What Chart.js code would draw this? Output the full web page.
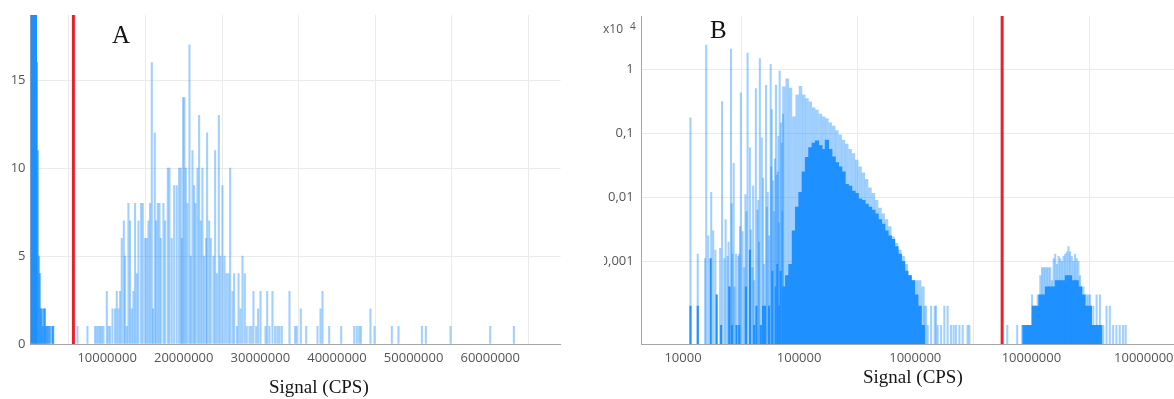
<!DOCTYPE html>
<html>
<head>
<meta charset="utf-8">
<script src="https://cdn.jsdelivr.net/npm/chart.js@4.4.1/dist/chart.umd.min.js"></script>
<style>
  body{margin:0;width:1174px;height:399px;overflow:hidden;background:#fff;position:relative;font-family:"Open Sans",sans-serif}
  canvas{position:absolute;top:0}
  #chartA{left:0}
  #chartB{left:604px}
  .letter{position:absolute;font-family:"Liberation Serif","Times New Roman",serif;font-size:25px;line-height:1;color:#151515}
  .xtitle{position:absolute;font-family:"Liberation Serif","Times New Roman",serif;font-size:19px;line-height:1;color:#151515;white-space:nowrap}
  .mult{position:absolute;font-family:"Open Sans",sans-serif;line-height:1;color:#555}
</style>
</head>
<body>
<canvas id="chartA" width="575" height="399"></canvas>
<canvas id="chartB" width="583" height="399"></canvas>
<div class="letter" style="left:112px;top:22px">A</div>
<div class="letter" style="left:710px;top:17px">B</div>
<div class="xtitle" style="left:269px;top:377px">Signal (CPS)</div>
<div class="xtitle" style="left:863px;top:367px">Signal (CPS)</div>
<div class="mult" style="left:603px;top:23px;font-size:12px">x10</div>
<div class="mult" style="left:630px;top:21px;font-size:10px">4</div>
<script>
// threshold drawn in red on both panels (CPS)
const thresholdSignal = 5.6e6;

// ---- panel A : linear histogram, signal in millions of CPS ----
const xTicksA = [1e7, 2e7, 3e7, 4e7, 5e7, 6e7];
const yTicksA = [0, 5, 10, 15];
const xMaxA = 69.2e6;
const yMaxA = 18.7;

const lowSignalA = [0.12, 0.31, 0.51, 0.70, 0.82, 0.93, 1.06, 1.19, 1.32, 1.45, 1.58, 1.74, 1.87, 1.97, 2.17, 2.34, 2.52, 2.86, 2.95];
const lowCountA  = [40, 36, 30, 24, 16, 11, 5, 4, 2, 2, 1, 2, 2, 1, 1, 1, 1, 1, 1];

const mainSignalA = [
  6.13, 7.43, 8.43, 8.65, 8.87, 9.09, 9.30, 9.52, 9.96, 10.17,
  10.39, 10.70, 11.04, 11.26, 11.48, 11.70, 11.91, 12.18, 12.35, 12.57,
  12.78, 13.00, 13.22, 13.43, 13.65, 13.87, 14.09, 14.44, 14.66, 14.96,
  15.18, 15.39, 15.61, 15.83, 16.00, 16.22, 16.40, 16.61, 16.83, 17.00,
  17.35, 17.57, 17.92, 18.14, 18.44, 18.75, 19.09, 19.40, 19.62, 19.75,
  19.92, 20.09, 20.27, 20.49, 20.75, 20.92, 21.14, 21.36, 21.53, 21.79,
  22.01, 22.23, 22.44, 22.66, 22.92, 23.05, 23.32, 23.53, 23.88, 24.10,
  24.32, 24.58, 24.79, 25.05, 25.32, 25.58, 25.84, 26.06, 26.36, 26.58,
  26.93, 27.15, 27.41, 27.67, 27.97, 28.23, 28.58, 28.84, 29.10, 29.45,
  29.71, 30.02, 30.67, 30.89, 31.19, 31.58, 31.93, 32.23, 32.50, 32.80,
  33.80, 34.54, 34.76, 35.28, 35.98, 37.46, 37.85, 38.11, 38.98, 40.55,
  42.25, 42.59, 42.90, 43.12, 44.37, 44.90, 47.16, 48.03, 51.08, 51.60,
  54.82, 60.00, 63.09
];
const mainCountA = [
  1, 1, 1, 1, 1, 1, 1, 1, 3, 1,
  1, 2, 2, 3, 2, 3, 6, 7, 5, 1,
  8, 7, 2, 3, 8, 4, 7, 8, 8, 6,
  6, 7, 8, 16, 2, 12, 7, 8, 8, 6,
  8, 7, 10, 10, 6, 9, 9, 10, 10, 6,
  14, 14, 10, 8, 17, 5, 11, 9, 8, 10,
  13, 7, 10, 5, 6, 12, 7, 6, 5, 11,
  4, 13, 5, 9, 5, 4, 4, 10, 3, 4,
  1, 4, 2, 5, 4, 1, 1, 1, 3, 1,
  2, 3, 1, 3, 1, 3, 1, 1, 1, 1,
  3, 1, 1, 2, 1, 1, 2, 3, 1, 1,
  1, 1, 1, 1, 2, 1, 1, 1, 1, 1,
  1, 1, 1
];

// ---- panel B : log-log histogram, counts shown as x10^4 ----
const countScaleB = 1e4;
const xTicksB = [1e4, 1e5, 1e6, 1e7, 1e8];
const yTicksB = [10, 100, 1000, 10000];
const xMinB = 4411, xMaxB = 2e8;
const yMinB = 0.51, yMaxB = 68000;

const spikeSignalB = [11600, 13400, 15500, 15850, 16500, 17500, 18200, 19000, 20900, 21700,
  22700, 23300, 24200, 24700, 25100, 25900, 26300, 26700, 27300, 27700,
  28600, 29900, 30500, 31000, 31500, 32600, 33700, 34500, 35200, 36000,
  37700, 38400, 39600, 40200, 41000, 42400, 43800, 44500, 45200, 45900,
  47700, 49000, 50000, 51900, 52800, 53700, 55100, 56900, 57500, 58100,
  59500, 60800, 62000, 63200, 64100, 65500, 66200, 67100, 68000, 69800,
  70800, 71600, 72800];
const spikeCountB = [1740, 13, 11, 23800, 25, 120, 30, 15, 16, 3140,
  11, 45, 12, 20, 4, 20600, 80, 13, 340, 4,
  13, 12, 13, 35, 4300, 29, 8, 110, 60, 17900,
  590, 31, 8, 150, 5, 5000, 63, 90, 20, 14700,
  850, 200, 9, 5600, 70, 120, 25, 12000, 300, 2350,
  180, 60, 400, 5680, 220, 250, 900, 40, 9400, 1450,
  700, 60, 2000];

const lowSignalB = [11600, 13400, 17300, 19500, 21300, 25100, 26400, 28900, 30500, 34800,
  37700, 41000, 42900, 46800, 48900, 50900, 55100, 58800, 62900, 64900, 67100, 69300];
const lowCountB = [2, 2, 11, 3, 1, 4, 1, 1, 1, 4, 15, 1, 2, 1, 2, 2, 2, 7, 4, 9, 2, 7];

const denseSignalB = [74000, 79000, 84300, 90200, 96200, 102800, 109700, 116900, 125000, 133600,
  142600, 152400, 162600, 173400, 185300, 198200, 211300, 225900, 241000, 257000,
  274800, 293800, 313300, 335000, 357300, 381100, 407400, 435500, 464500, 496600,
  529700, 564900, 603900, 644200, 688700, 736200, 785300, 837600, 895400, 955000,
  1021000, 1091000, 1164000];
const denseTopB = [5300, 7100, 5100, 1800, 4000, 5400, 4000, 3500, 3100, 2500,
  2300, 2000, 1800, 1700, 1450, 1300, 1100, 950, 780, 680,
  560, 480, 380, 300, 240, 190, 140, 115, 90, 68,
  55, 45, 35, 24, 19, 15, 12, 9, 6, 5,
  5, 5, 4];
const denseBaseB = [4, 6, 9, 30, 70, 120, 250, 420, 600, 700,
  760, 640, 560, 780, 560, 430, 350, 300, 250, 160,
  150, 125, 115, 95, 90, 78, 70, 63, 55, 45,
  38, 30, 25, 22, 17, 13, 10, 7, 6, 5,
  3, 2, 1];

const tailSignalB = [1.20e6, 1.24e6, 1.28e6, 1.37e6, 1.47e6, 1.51e6, 1.56e6, 1.67e6, 1.78e6, 1.90e6,
  2.03e6, 2.14e6, 2.24e6, 2.40e6, 2.56e6, 2.82e6, 2.92e6];
const tailCountB = [2, 2, 1, 2, 2, 2, 1, 1, 2, 2, 1, 1, 1, 1, 1, 1, 1];

// second population, signal in millions of CPS
const clusterSignalB = [6.20, 7.55, 8.33, 8.71, 9.06, 9.50, 9.81, 10.14, 10.48, 10.82,
  11.34, 11.94, 12.35, 12.76, 13.17, 13.62, 14.08, 14.53, 15.03, 15.54,
  16.04, 16.58, 17.15, 17.70, 18.30, 18.92, 19.53, 20.19, 20.88, 21.54,
  22.28, 23.04, 23.78, 24.59, 25.42, 26.23, 27.13, 28.05, 28.94, 29.93,
  30.95, 31.93, 34.15, 36.43, 38.88, 40.21, 41.57, 44.36, 47.34, 50.61,
  54.02, 57.64, 61.61, 64.86];
const clusterCountB = [1, 1, 1, 1, 1, 1, 1, 3, 2, 2,
  3, 6, 8, 8, 8, 8, 8, 8, 5, 11,
  13, 9, 12, 11, 10, 12, 13, 14, 17, 14,
  12, 10, 13, 11, 10, 6, 4, 4, 3, 3,
  3, 3, 2, 3, 3, 1, 1, 2, 2, 1,
  1, 1, 1, 1];
const clusterBaseSignalB = [8.71, 9.19, 9.81, 10.48, 11.19, 11.94, 12.76, 13.62, 14.53, 15.54,
  16.58, 17.70, 18.92, 20.19, 21.54, 23.04, 24.59, 26.23, 28.05, 29.93,
  31.93, 34.15, 36.43, 38.88];
const clusterBaseCountB = [1, 1, 1, 2, 2, 3, 3, 4, 4, 4, 5, 5, 5, 6, 6, 5, 5, 4, 3, 2, 2, 1, 1, 1];

// ---- styles ----
const BLUE = '#1e90ff';
const BLUE_LIGHT = 'rgba(30,144,255,0.42)';
const BLUE_MID = 'rgba(30,144,255,0.72)';
const RED = '#e8202a';
const GRID = '#ebebeb';
const AXIS = '#a6a6a6';
const tickFont = {family: '"Open Sans", sans-serif', size: 13};

const pts = (xs, ys, k = 1) => xs.map((x, i) => ({x: x * k, y: ys[i]}));
const bars = (data, color, thick, order) => ({type: 'bar', data, backgroundColor: color, barThickness: thick, grouped: false, order});
const redLine = (y0, y1) => ({type: 'line', data: [{x: thresholdSignal, y: y0}, {x: thresholdSignal, y: y1}],
  borderColor: RED, borderWidth: 3, pointRadius: 0, fill: false, order: 0});
const fixTicks = list => s => { s.ticks = list.map(v => ({value: v})); };

const baseOpts = {
  responsive: false,
  animation: false,
  plugins: {legend: {display: false}, tooltip: {enabled: false}}
};

new Chart(document.getElementById('chartA'), {
  type: 'bar',
  data: {datasets: [
    redLine(0, yMaxA),
    bars(pts(lowSignalA, lowCountA, 1e6), ctx => ctx.dataIndex < 4 ? BLUE : BLUE_MID, 1.6, 1),
    bars(pts(mainSignalA, mainCountA, 1e6), BLUE_LIGHT, 1.4, 2)
  ]},
  options: {
    ...baseOpts,
    layout: {padding: {top: 15, right: 14.3, left: 0, bottom: 0}},
    scales: {
      x: {type: 'linear', min: 0, max: xMaxA, offset: false,
        grid: {color: GRID, drawTicks: false}, border: {color: AXIS},
        afterBuildTicks: fixTicks(xTicksA), afterFit: s => { s.height = 55; },
        ticks: {font: tickFont, color: '#555', padding: 6, maxRotation: 0, autoSkip: false, callback: v => String(v)}},
      y: {type: 'linear', min: 0, max: yMaxA,
        grid: {color: GRID, drawTicks: false}, border: {color: AXIS},
        afterBuildTicks: fixTicks(yTicksA), afterFit: s => { s.width = 30.5; },
        ticks: {font: tickFont, color: '#555', padding: 5, autoSkip: false}}
    }
  }
});

new Chart(document.getElementById('chartB'), {
  type: 'bar',
  data: {datasets: [
    redLine(yMinB, yMaxB),
    bars(pts(lowSignalB, lowCountB), BLUE, 1.4, 1),
    bars(pts(denseSignalB, denseBaseB), BLUE, 3.6, 1),
    bars(pts(clusterBaseSignalB, clusterBaseCountB, 1e6), BLUE, 3.4, 1),
    bars(pts(spikeSignalB, spikeCountB), BLUE_LIGHT, 1.4, 2),
    bars(pts(denseSignalB, denseTopB), BLUE_LIGHT, 2.8, 2),
    bars(pts(tailSignalB, tailCountB), BLUE_LIGHT, 1.4, 2),
    bars(pts(clusterSignalB, clusterCountB, 1e6), BLUE_LIGHT, 1.4, 2)
  ]},
  options: {
    ...baseOpts,
    layout: {padding: {top: 16, right: 0.5, left: 0, bottom: 0}},
    scales: {
      x: {type: 'logarithmic', min: xMinB, max: xMaxB, offset: false,
        grid: {color: GRID, drawTicks: false}, border: {color: AXIS},
        afterBuildTicks: fixTicks(xTicksB), afterFit: s => { s.height = 55; },
        ticks: {font: tickFont, color: '#555', padding: 6, maxRotation: 0, autoSkip: false, callback: v => String(v)}},
      y: {type: 'logarithmic', min: yMinB, max: yMaxB,
        grid: {color: GRID, drawTicks: false}, border: {color: AXIS},
        afterBuildTicks: fixTicks(yTicksB), afterFit: s => { s.width = 37.7; },
        ticks: {font: tickFont, color: '#555', padding: 8, autoSkip: false,
          callback: v => String(v / countScaleB).replace('.', ',')}}
    }
  }
});
</script>
</body>
</html>
